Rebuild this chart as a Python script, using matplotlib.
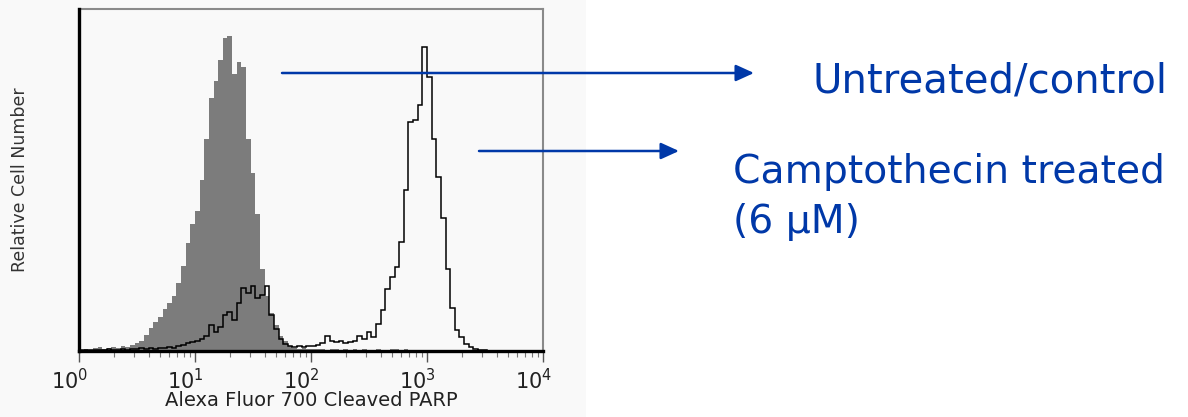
import numpy as np
import matplotlib
matplotlib.use("Agg")
import matplotlib.pyplot as plt
from matplotlib.patches import Rectangle, FancyArrowPatch
from matplotlib.ticker import LogLocator, NullFormatter, FixedLocator
from matplotlib.transforms import ScaledTranslation

plt.rcParams['font.family'] = ['DejaVu Sans']
plt.rcParams['mathtext.default'] = 'regular'

# log10 bin edges of the histogram channels (0.04 decade wide)
log_edges = np.linspace(0, 4, 101)

# untreated / control (filled grey), relative cell number in % of axis height
control = [0.3, 0.6, 0.4, 0.8, 1.1, 0.7, 0.9, 1.2, 1.0, 1.4,
           1.2, 1.8, 2.4, 3.0, 4.8, 6.8, 8.6, 10.0, 12.2, 14.0,
           16.0, 20.0, 25.0, 31.5, 37.0, 41.0, 50.0, 62.0, 74.0, 79.0,
           85.0, 91.5, 92.0, 81.0, 84.5, 83.0, 62.0, 52.0, 40.0, 24.0,
           16.0, 11.0, 7.5, 4.5, 2.8, 1.4, 0.9, 0.7, 0.8, 0.6,
           0.7, 0.5, 0.6, 0.4, 0.5, 0.6, 0.4, 0.5, 0.4, 0.5,
           0.4, 0.5, 0.3, 0.4, 0.5, 0.4, 0.3, 0.5, 0.6, 0.4,
           0.5, 0.4, 0.3, 0.4, 0.3, 0.4, 0.3, 0.2, 0.3, 0.2,
           0.2, 0.1, 0.2, 0.1, 0.1, 0.1, 0, 0, 0, 0,
           0, 0, 0, 0, 0, 0, 0, 0, 0, 0]

# camptothecin treated (black outline)
treated = [0.2, 0.3, 0.2, 0.4, 0.3, 0.2, 0.5, 0.3, 0.4, 0.6,
           0.4, 0.7, 0.5, 0.8, 0.6, 0.9, 0.7, 1.0, 0.8, 1.2,
           1.0, 1.4, 1.8, 2.2, 2.6, 2.8, 3.5, 4.5, 7.5, 5.5,
           7.0, 10.5, 11.5, 9.0, 14.0, 18.5, 17.0, 19.0, 15.5, 16.5,
           19.0, 10.5, 6.5, 3.5, 2.0, 1.5, 1.3, 1.6, 1.2, 1.5,
           1.4, 1.7, 2.2, 4.5, 3.0, 2.6, 2.8, 2.4, 2.7, 3.0,
           4.5, 3.5, 5.5, 4.0, 8.0, 12.0, 18.0, 21.5, 24.5, 32.0,
           47.0, 67.0, 67.5, 72.0, 89.0, 80.0, 62.0, 51.0, 39.0, 24.0,
           12.5, 6.0, 4.0, 2.0, 1.2, 0.5, 0.3, 0.2, 0.1, 0.1,
           0, 0, 0, 0, 0, 0, 0, 0, 0, 0]

tick_values = [1, 10, 100, 1000, 10000]
tick_labels = [r'$10^{0}$', r'$10^{1}$', r'$10^{2}$', r'$10^{3}$', r'$10^{4}$']

W, H = 1188, 417
fig = plt.figure(figsize=(W / 100, H / 100), dpi=100)
fig.patch.set_facecolor('white')
fig.add_artist(Rectangle((0, 0), 586 / W, 1, transform=fig.transFigure,
                         facecolor='#f9f9f9', edgecolor='none', zorder=0))

ax = fig.add_axes([79 / W, 1 - 351 / H, (543 - 79) / W, (351 - 9) / H])
ax.set_facecolor('#f9f9f9')

edges = 10 ** log_edges
ax.stairs(control, edges, fill=True, color='#7c7c7c', zorder=2)
ax.stairs(treated, edges, color='black', lw=1.1, zorder=3)

ax.set_xscale('log')
ax.set_xlim(1, 10000)
ax.set_ylim(0, 100)

ax.xaxis.set_major_locator(FixedLocator(tick_values))
ax.set_xticklabels(tick_labels)
ax.xaxis.set_minor_locator(LogLocator(base=10, subs=np.arange(2, 10)))
ax.xaxis.set_minor_formatter(NullFormatter())
ax.tick_params(axis='x', which='major', length=8, width=1, color='#555555',
               labelsize=15, labelcolor='#222222', pad=4)
ax.tick_params(axis='x', which='minor', length=4, width=0.8, color='#777777')
ax.set_yticks([])

offset = ScaledTranslation(0.09, 0, fig.dpi_scale_trans)
for lab in ax.get_xticklabels():
    lab.set_horizontalalignment('right')
    lab.set_transform(lab.get_transform() + offset)

for side in ['left', 'bottom']:
    ax.spines[side].set_linewidth(2.4)
    ax.spines[side].set_color('black')
    ax.spines[side].set_zorder(5)
for side in ['top', 'right']:
    ax.spines[side].set_linewidth(1.5)
    ax.spines[side].set_color('#8a8a8a')

ax.set_xlabel('Alexa Fluor 700 Cleaved PARP', fontsize=14, color='#222222', labelpad=-1)
ax.set_ylabel('Relative Cell Number', fontsize=12.5, color='#333333', labelpad=36)

blue = '#0038a8'
arrows = [((282, 73), (754, 73)), ((479, 151), (679, 151))]
for (x0, y0), (x1, y1) in arrows:
    fig.add_artist(FancyArrowPatch((x0 / W, 1 - y0 / H), (x1 / W, 1 - y1 / H),
                                   transform=fig.transFigure,
                                   arrowstyle='-|>,head_length=11,head_width=5',
                                   mutation_scale=1, shrinkA=0, shrinkB=0,
                                   color=blue, lw=1.8, zorder=10))

fig.text(812 / W, 1 - 93 / H, 'Untreated/control', color=blue, fontsize=29,
         ha='left', va='baseline')
fig.text(733 / W, 1 - 183 / H, 'Camptothecin treated', color=blue, fontsize=28.3,
         ha='left', va='baseline')
fig.text(733 / W, 1 - 233 / H, '(6 µM)', color=blue, fontsize=28.3,
         ha='left', va='baseline')

fig.savefig('out.png', dpi=100)
